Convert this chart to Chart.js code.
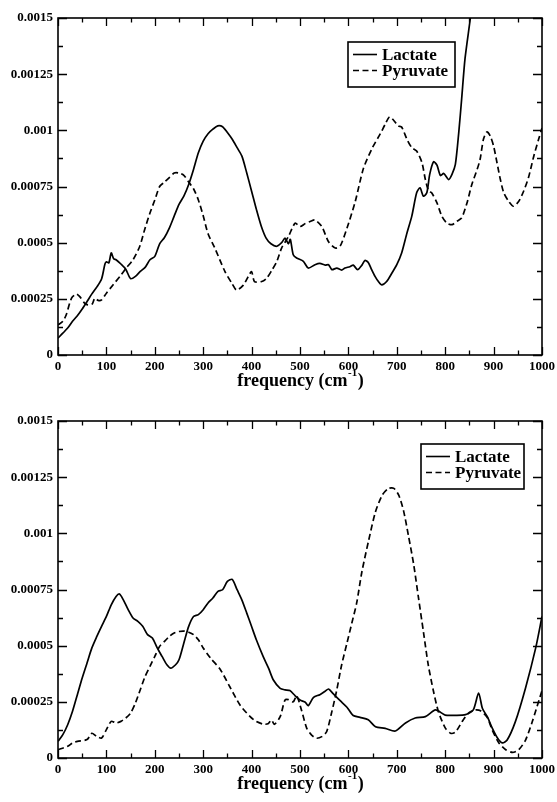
<!DOCTYPE html>
<html>
<head>
<meta charset="utf-8">
<script src="https://cdn.jsdelivr.net/npm/chart.js@4.4.1/dist/chart.umd.min.js"></script>
<style>
  html, body { margin: 0; padding: 0; background: #fff; }
  #wrap { position: relative; width: 557px; height: 802px; }
  canvas { position: absolute; left: 0; }
</style>
</head>
<body>
<div id="wrap">
  <canvas id="topChart" width="557" height="400" style="top:0"></canvas>
  <canvas id="bottomChart" width="557" height="402" style="top:400px"></canvas>
</div>
<script>
// --- data ---
const seriesNames = ['Lactate', 'Pyruvate'];
const xTitle = 'frequency (cm';
const xTitleSup = '-1';

// upper panel
const topLactateFreq = [0,10,20,30,40,50,60,70,80,90,97,100,105,110,115,120,130,140,150,160,170,180,190,200,210,220,230,240,250,260,270,280,290,300,310,320,330,340,350,360,370,380,390,400,410,420,430,440,452,462,469,476,480,486,493,507,517,531,541,552,559,566,576,586,593,603,610,619,628,634,641,648,655,662,669,679,690,700,710,721,731,741,748,755,762,768,776,783,790,797,807,814,821,828,834,841,852,860];
const topLactate = [0.000075,0.000097,0.00012,0.00015,0.000175,0.000205,0.000238,0.000272,0.000302,0.000338,0.000405,0.000415,0.00041,0.000454,0.000428,0.000424,0.000405,0.000382,0.00034,0.00035,0.000372,0.00039,0.000424,0.000439,0.000495,0.000523,0.000565,0.000618,0.00067,0.000707,0.000759,0.000826,0.0009,0.000952,0.000985,0.001005,0.00102,0.001016,0.00099,0.00096,0.000923,0.000885,0.00081,0.000729,0.000647,0.000573,0.00052,0.000495,0.000484,0.0005,0.00052,0.000495,0.000515,0.000446,0.000432,0.000417,0.000387,0.000402,0.000408,0.0004,0.000402,0.00038,0.000387,0.000378,0.000387,0.000393,0.0004,0.00038,0.0004,0.000421,0.000412,0.00038,0.00035,0.000327,0.000312,0.000327,0.000365,0.000402,0.000454,0.000543,0.000618,0.000722,0.000744,0.000707,0.000722,0.000804,0.00086,0.000845,0.000799,0.000808,0.000781,0.000804,0.000848,0.00099,0.00114,0.00132,0.0015,0.00165];

const topPyruvateFreq = [0,10,17,28,38,45,55,62,71,76,83,90,100,114,128,141,155,169,179,190,200,210,220,230,240,250,260,270,280,290,300,310,324,345,359,369,383,393,400,406,421,431,442,452,462,476,490,500,511,521,531,545,559,573,583,597,614,631,649,666,676,685,693,703,710,721,731,741,752,759,766,772,783,793,803,814,824,834,845,855,866,872,879,886,893,900,907,914,921,931,941,952,962,972,983,993,1000];
const topPyruvate = [0.000134,0.00015,0.000179,0.000253,0.000271,0.00026,0.000231,0.000223,0.000228,0.000253,0.000243,0.000245,0.000275,0.000313,0.00035,0.000387,0.000424,0.000484,0.000558,0.000632,0.00069,0.00075,0.00077,0.00079,0.00081,0.00081,0.0008,0.00077,0.00074,0.00069,0.00062,0.00054,0.000476,0.000371,0.00032,0.000289,0.000311,0.000349,0.000371,0.000327,0.000327,0.000341,0.000378,0.000416,0.000476,0.000527,0.000587,0.000572,0.000585,0.000594,0.000601,0.000572,0.000504,0.000476,0.000485,0.000564,0.000682,0.00083,0.00092,0.000985,0.001027,0.00106,0.001046,0.00102,0.001015,0.00096,0.000923,0.000908,0.000856,0.000781,0.000729,0.000722,0.000677,0.000618,0.000588,0.00058,0.000595,0.00061,0.000677,0.000759,0.000826,0.00087,0.00096,0.000993,0.000975,0.00093,0.000856,0.000781,0.000722,0.000684,0.000662,0.000684,0.000729,0.000789,0.000885,0.00096,0.00101];

// lower panel
const bottomLactateFreq = [0,10,20,30,40,50,60,70,80,90,100,110,120,127,135,145,155,165,175,185,195,205,215,225,233,243,250,260,270,280,290,300,310,320,330,340,350,360,370,380,390,400,410,424,435,445,459,469,479,490,500,511,517,528,541,552,559,569,583,597,610,624,641,656,676,697,718,738,759,780,800,821,842,858,869,877,887,897,908,918,928,945,966,987,1000];
const bottomLactate = [0.000074,0.000104,0.000148,0.000208,0.000282,0.000356,0.000423,0.00049,0.00054,0.000586,0.00063,0.000682,0.000719,0.00073,0.000704,0.00066,0.000623,0.000608,0.000586,0.000549,0.000534,0.00049,0.000452,0.000415,0.0004,0.000415,0.000437,0.000512,0.000586,0.00063,0.000638,0.00066,0.00069,0.000712,0.000741,0.000749,0.000786,0.000795,0.000749,0.000703,0.000645,0.000585,0.000525,0.000451,0.0004,0.000347,0.00031,0.000303,0.0003,0.000277,0.000258,0.000248,0.000233,0.00027,0.000282,0.000297,0.000307,0.000285,0.000255,0.000226,0.000189,0.000181,0.00017,0.000139,0.000132,0.00012,0.000156,0.000178,0.000184,0.000214,0.000191,0.00019,0.000193,0.000214,0.000289,0.00022,0.000184,0.000134,0.000089,0.000067,0.00008,0.000162,0.000312,0.00049,0.00063];

const bottomPyruvateFreq = [0,20,30,40,60,70,80,90,100,110,120,130,140,150,160,170,180,190,200,210,220,230,240,250,260,270,280,290,300,315,335,355,376,397,410,424,434,441,447,459,469,476,486,493,503,514,524,534,545,555,565,576,586,597,607,617,628,642,656,670,683,694,704,714,724,735,745,755,765,776,786,800,811,821,835,848,862,873,887,897,911,925,939,952,966,980,1000];
const bottomPyruvate = [0.000037,0.000052,0.000067,0.000074,0.000082,0.00011,0.000096,0.000089,0.000126,0.000163,0.000156,0.000163,0.000178,0.0002,0.000245,0.000304,0.000363,0.000408,0.000452,0.000497,0.000519,0.000541,0.000556,0.000563,0.000565,0.00056,0.000549,0.000526,0.00049,0.000445,0.000395,0.000317,0.000236,0.000184,0.000162,0.000151,0.000152,0.000169,0.00015,0.000184,0.000258,0.00026,0.00025,0.000277,0.000214,0.000132,0.000102,0.000088,0.000095,0.000117,0.000199,0.000303,0.000414,0.000511,0.0006,0.000689,0.00083,0.00097,0.001096,0.00117,0.0012,0.0012,0.00117,0.0011,0.00099,0.00086,0.00071,0.000562,0.000414,0.000295,0.000206,0.000134,0.00011,0.000115,0.000162,0.0002,0.000214,0.00021,0.00018,0.000125,0.000067,0.000037,0.000025,0.000037,0.00008,0.000162,0.0003];

const serif = "'Liberation Serif', 'Times New Roman', serif";
const dashStyle = [6, 3.5];

function pts(xs, ys) {
  return xs.map((x, i) => ({ x: x, y: ys[i] }));
}

// frame, inward ticks on every side, axis title and boxed legend (xmgrace look)
const gracePlugin = {
  id: 'grace',
  afterDatasetsDraw(chart, args, opts) {
    const ctx = chart.ctx, a = chart.chartArea;
    const xs = chart.scales.x, ys = chart.scales.y;
    ctx.save();
    ctx.strokeStyle = '#000';
    ctx.lineWidth = 1.3;
    ctx.beginPath();
    for (let v = 0; v <= 1000; v += 50) {
      const px = Math.round(xs.getPixelForValue(v)) + 0.5;
      const len = v % 100 === 0 ? 8 : 4.5;
      ctx.moveTo(px, a.bottom); ctx.lineTo(px, a.bottom - len);
      ctx.moveTo(px, a.top); ctx.lineTo(px, a.top + len);
    }
    for (let i = 0; i <= 12; i++) {
      const py = Math.round(ys.getPixelForValue(i * 0.000125)) + 0.5;
      const len = i % 2 === 0 ? 9 : 5;
      ctx.moveTo(a.left, py); ctx.lineTo(a.left + len, py);
      ctx.moveTo(a.right, py); ctx.lineTo(a.right - len, py);
    }
    ctx.stroke();
    ctx.lineWidth = 1.6;
    ctx.strokeRect(a.left, a.top, a.right - a.left, a.bottom - a.top);

    // axis title with superscript
    ctx.fillStyle = '#000';
    ctx.textBaseline = 'alphabetic';
    ctx.textAlign = 'left';
    const big = 'bold 18px ' + serif, small = 'bold 11px ' + serif;
    ctx.font = big;
    const w1 = ctx.measureText(xTitle).width;
    const w3 = ctx.measureText(')').width;
    ctx.font = small;
    const w2 = ctx.measureText(xTitleSup).width;
    const tx = (a.left + a.right) / 2 - (w1 + w2 + w3) / 2;
    const ty = a.bottom + 31;
    ctx.font = big;
    ctx.fillText(xTitle, tx, ty);
    ctx.font = small;
    ctx.fillText(xTitleSup, tx + w1 + 0.5, ty - 10);
    ctx.font = big;
    ctx.fillText(')', tx + w1 + w2 + 1, ty);

    // legend
    const L = opts.box;
    ctx.fillStyle = '#fff';
    ctx.fillRect(L.x, L.y, L.w, L.h);
    ctx.lineWidth = 1.6;
    ctx.strokeRect(L.x, L.y, L.w, L.h);
    chart.data.datasets.forEach((ds, i) => {
      const ly = L.y + 12.5 + i * 16;
      ctx.beginPath();
      ctx.setLineDash(ds.borderDash || []);
      ctx.lineWidth = 1.6;
      ctx.moveTo(L.x + 5, ly); ctx.lineTo(L.x + 29, ly);
      ctx.stroke();
      ctx.setLineDash([]);
      ctx.fillStyle = '#000';
      ctx.textBaseline = 'middle';
      ctx.font = 'bold 17px ' + serif;
      ctx.fillText(ds.label, L.x + 34, ly + 1);
    });
    ctx.restore();
  }
};

function makeChart(id, lac, pyr, padTop, axisH, box) {
  return new Chart(document.getElementById(id).getContext('2d'), {
    type: 'line',
    data: {
      datasets: [
        { label: seriesNames[0], data: lac, borderColor: '#000', borderWidth: 1.7, pointRadius: 0, tension: 0.25, fill: false },
        { label: seriesNames[1], data: pyr, borderColor: '#000', borderWidth: 1.7, borderDash: dashStyle, pointRadius: 0, tension: 0.25, fill: false }
      ]
    },
    options: {
      responsive: false,
      animation: false,
      layout: { padding: { left: 0, right: 15, top: padTop, bottom: 0 } },
      plugins: { legend: { display: false }, tooltip: { enabled: false }, grace: { box: box } },
      scales: {
        x: {
          type: 'linear', min: 0, max: 1000,
          ticks: { stepSize: 100, padding: 4, color: '#000', maxRotation: 0, autoSkip: false,
                   font: { family: serif, size: 13, weight: 'bold' }, callback: v => String(v) },
          grid: { display: false, drawTicks: false },
          border: { display: false },
          afterFit(s) { s.height = axisH; s.paddingLeft = 0; s.paddingRight = 0; }
        },
        y: {
          min: 0, max: 0.0015,
          ticks: { stepSize: 0.00025, padding: 5, color: '#000', font: { family: serif, size: 13, weight: 'bold' },
                   callback: v => String(+Number(v).toFixed(5)) },
          grid: { display: false, drawTicks: false },
          border: { display: false },
          afterFit(s) { s.width = 58; s.paddingTop = 0; s.paddingBottom = 0; }
        }
      }
    },
    plugins: [gracePlugin]
  });
}

makeChart('topChart', pts(topLactateFreq, topLactate), pts(topPyruvateFreq, topPyruvate), 18, 45,
  { x: 348, y: 42, w: 107, h: 45 });
makeChart('bottomChart', pts(bottomLactateFreq, bottomLactate), pts(bottomPyruvateFreq, bottomPyruvate), 21, 44,
  { x: 421, y: 44, w: 103, h: 45 });
</script>
</body>
</html>
